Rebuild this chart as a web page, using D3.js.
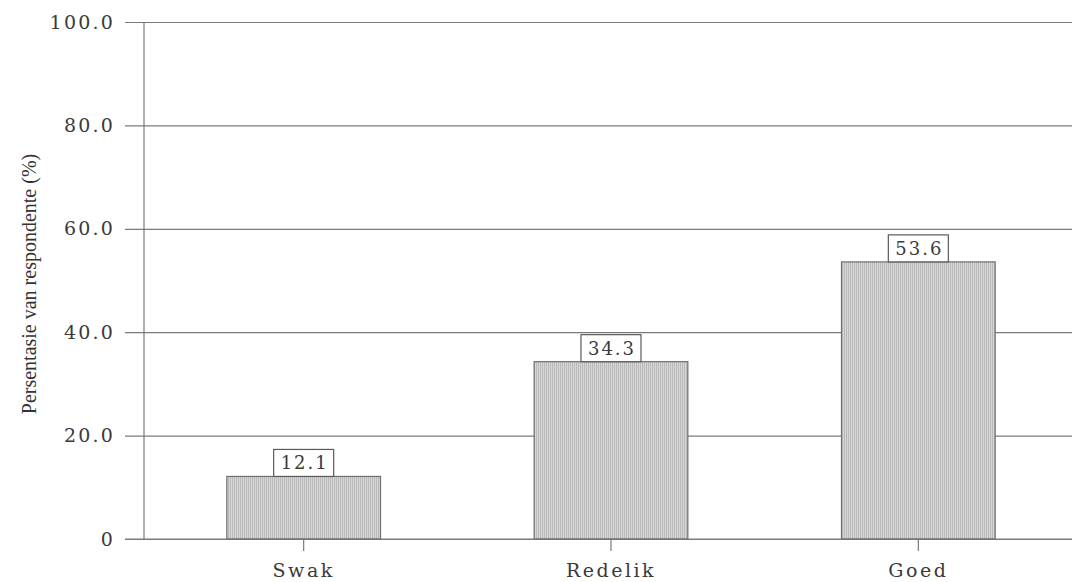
<!DOCTYPE html>
<html>
<head>
<meta charset="utf-8">
<script src="https://cdn.jsdelivr.net/npm/d3@7/dist/d3.min.js"></script>
<style>
  html, body { margin: 0; padding: 0; background: #fff; }
  svg { display: block; }
</style>
</head>
<body>
<script>
// Respondent ratings, percentage per category
const categories = ["Swak", "Redelik", "Goed"];
const values = [12.1, 34.3, 53.6];
const yTicks = [0, 20, 40, 60, 80, 100];
const yTickLabels = ["0", "20.0", "40.0", "60.0", "80.0", "100.0"];
const yTitle = "Persentasie van respondente (%)";

const W = 1072, H = 582;
const margin = { left: 144, right: 0, top: 22, bottom: 43 };

const svg = d3.select("body").append("svg")
  .attr("width", W).attr("height", H);

// Fine vertical hatching used for the bars
const defs = svg.append("defs");
const pat = defs.append("pattern")
  .attr("id", "hatch")
  .attr("patternUnits", "userSpaceOnUse")
  .attr("width", 2).attr("height", 4);
pat.append("rect").attr("width", 2).attr("height", 4).attr("fill", "#d6d6d6");
pat.append("rect").attr("width", 1).attr("height", 4).attr("fill", "#bababa");

const x = d3.scaleBand()
  .domain(categories)
  .range([margin.left + 6, W - margin.right])
  .paddingInner(0.5)
  .paddingOuter(0.25);

const y = d3.scaleLinear()
  .domain([0, 100])
  .range([H - margin.bottom, margin.top]);

// Horizontal gridlines with ticks reaching left of the axis
const yAxis = d3.axisLeft(y)
  .tickValues(yTicks)
  .tickSize(-(W - margin.left))
  .tickSizeOuter(0)
  .tickFormat((d, i) => yTickLabels[i]);

const gy = svg.append("g")
  .attr("transform", `translate(${margin.left},0)`)
  .call(yAxis);
gy.select(".domain").remove();
gy.selectAll(".tick line")
  .attr("x1", -19)
  .attr("stroke", "#7a7a7a")
  .attr("stroke-width", 1.2);
gy.selectAll(".tick text")
  .attr("x", -29)
  .attr("fill", "#3a3a3a")
  .style("font-family", "'DejaVu Serif', serif")
  .style("font-size", "19px")
  .style("letter-spacing", "2.2px");

// Vertical axis line
svg.append("line")
  .attr("x1", margin.left).attr("x2", margin.left)
  .attr("y1", y(100)).attr("y2", y(0))
  .attr("stroke", "#7a7a7a").attr("stroke-width", 1.2);

// Bars
svg.append("g").selectAll("rect")
  .data(values)
  .join("rect")
  .attr("x", (d, i) => x(categories[i]))
  .attr("width", x.bandwidth())
  .attr("y", d => y(d))
  .attr("height", d => y(0) - y(d))
  .attr("fill", "url(#hatch)")
  .attr("stroke", "#6e6e6e")
  .attr("stroke-width", 1.2);

// Baseline redrawn over the bars
svg.append("line")
  .attr("x1", margin.left - 19).attr("x2", W)
  .attr("y1", y(0)).attr("y2", y(0))
  .attr("stroke", "#7a7a7a").attr("stroke-width", 1.2);

// Category axis
const xAxis = d3.axisBottom(x).tickSize(12).tickPadding(13).tickSizeOuter(0);
const gx = svg.append("g")
  .attr("transform", `translate(0,${y(0)})`)
  .call(xAxis);
gx.select(".domain").remove();
gx.selectAll(".tick line").attr("stroke", "#7a7a7a").attr("stroke-width", 1.2);
gx.selectAll(".tick text")
  .attr("fill", "#3a3a3a")
  .style("font-family", "'DejaVu Serif', serif")
  .style("font-size", "19px")
  .style("letter-spacing", "2.5px");

// Value labels in boxes above each bar
const lbl = svg.append("g").selectAll("g")
  .data(values)
  .join("g")
  .attr("transform", (d, i) => `translate(${x(categories[i]) + x.bandwidth() / 2},${y(d)})`);
lbl.append("rect")
  .attr("x", -30).attr("y", -27)
  .attr("width", 60).attr("height", 27)
  .attr("fill", "#fff")
  .attr("stroke", "#5a5a5a")
  .attr("stroke-width", 1.2);
lbl.append("text")
  .attr("y", -7)
  .attr("x", 1)
  .attr("text-anchor", "middle")
  .attr("fill", "#3a3a3a")
  .style("font-family", "'DejaVu Serif', serif")
  .style("font-size", "18px")
  .style("letter-spacing", "2px")
  .text(d => d.toFixed(1));

// Y axis title
svg.append("text")
  .attr("transform", "translate(36,284) rotate(-90)")
  .attr("text-anchor", "middle")
  .attr("fill", "#333")
  .style("font-family", "'Liberation Serif', serif")
  .style("font-size", "20px")
  .text(yTitle);
</script>
</body>
</html>
